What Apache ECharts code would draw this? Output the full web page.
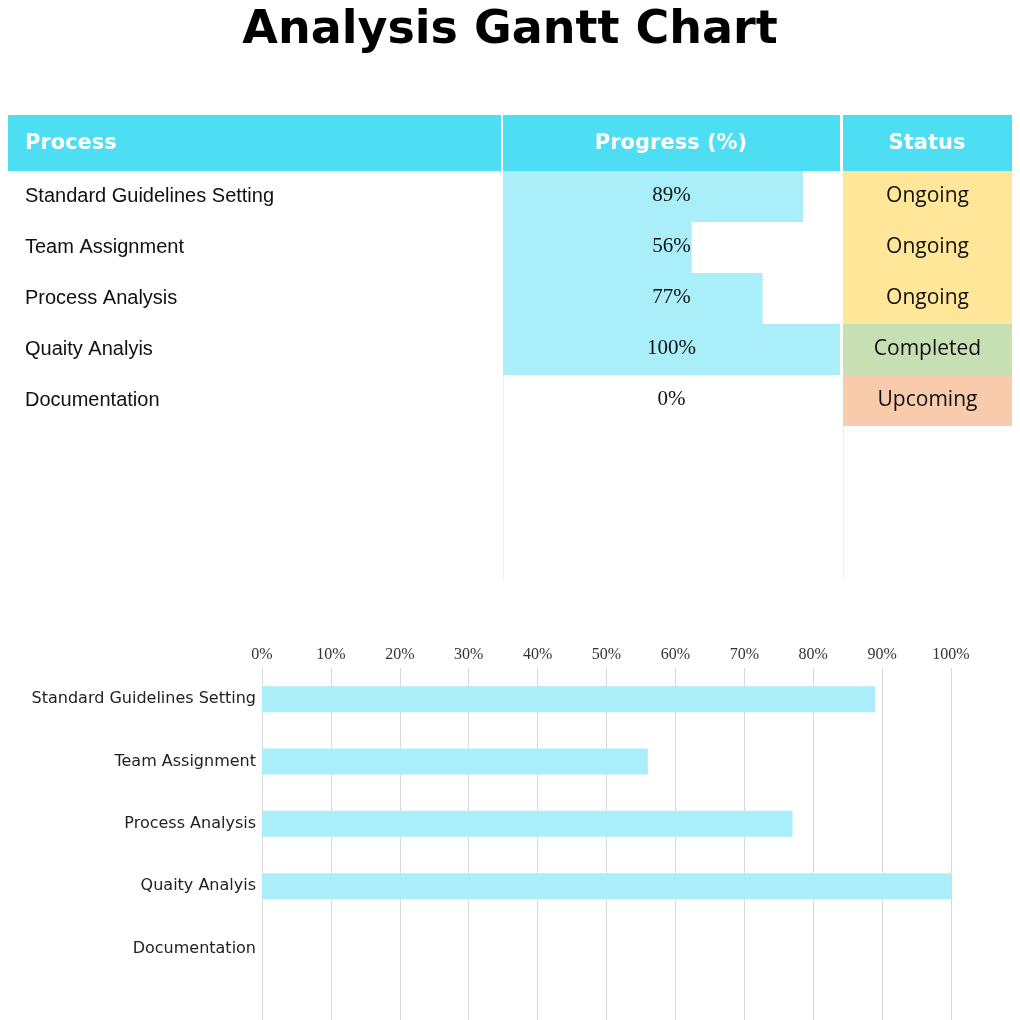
<!DOCTYPE html>
<html>
<head>
<meta charset="utf-8">
<script src="https://cdn.jsdelivr.net/npm/echarts@6/dist/echarts.min.js"></script>
<style>
html, body { margin: 0; padding: 0; background: #fff; }
#main { width: 1020px; height: 1020px; }
</style>
</head>
<body>
<div id="main"></div>
<script>
// table + chart data
const processes = ['Standard Guidelines Setting', 'Team Assignment', 'Process Analysis', 'Quaity Analyis', 'Documentation']
const progress = [89, 56, 77, 100, 0]
const statuses = ['Ongoing', 'Ongoing', 'Ongoing', 'Completed', 'Upcoming']
const headers = ['Process', 'Progress (%)', 'Status']

const statusColors = { Ongoing: '#FFE699', Completed: '#C6E0B4', Upcoming: '#F8CBAD' }
const headColor = '#4DDEF4'
const barColor = '#AAEEF9'
const headFont = 'bold 21px "DejaVu Sans"'

const chart = echarts.init(document.getElementById('main'))

const blankLabel = v => (v && v !== 'undefined') ? v : ''

// table grids: 0 = process, 1 = progress, 2 = status (rows 51px, 8 rows down to the table end)
const tableGrid = (left, width) => ({ left: left, width: width, top: 171, height: 408, outerBoundsMode: 'none' })
const tableX = (idx, max) => ({ type: 'value', gridIndex: idx, min: 0, max: max, show: false })
const tableY = (idx, line) => ({
    type: 'category', gridIndex: idx, data: processes, inverse: true, max: 7,
    axisLine: { show: line, lineStyle: { color: '#eeeeee', width: 1 } },
    axisTick: { show: false }, axisLabel: { show: false }, splitLine: { show: false }
})

const option = {
    backgroundColor: '#fff',
    animation: false,
    title: {
        text: 'Analysis Gantt Chart',
        left: 'center',
        top: 3,
        textStyle: { fontSize: 46, fontWeight: 'bold', fontFamily: 'DejaVu Sans', color: '#000' }
    },
    graphic: [
        { type: 'rect', shape: { x: 8, y: 115, width: 493, height: 56 }, style: { fill: headColor } },
        { type: 'rect', shape: { x: 503, y: 115, width: 337, height: 56 }, style: { fill: headColor } },
        { type: 'rect', shape: { x: 843, y: 115, width: 169, height: 56 }, style: { fill: headColor } },
        { type: 'text', x: 25, y: 144, style: { text: headers[0], fill: '#fff', font: headFont, verticalAlign: 'middle' } },
        { type: 'text', x: 671, y: 144, style: { text: headers[1], fill: '#fff', font: headFont, align: 'center', verticalAlign: 'middle' } },
        { type: 'text', x: 927, y: 144, style: { text: headers[2], fill: '#fff', font: headFont, align: 'center', verticalAlign: 'middle' } }
    ],
    grid: [
        tableGrid(8, 493),
        tableGrid(503, 337),
        tableGrid(843, 169),
        { left: 262, width: 689, top: 668, height: 374, outerBoundsMode: 'none' }
    ],
    xAxis: [
        tableX(0, 1),
        tableX(1, 100),
        tableX(2, 1),
        {
            type: 'value', gridIndex: 3, position: 'top', min: 0, max: 100, interval: 10,
            axisLine: { show: false }, axisTick: { show: false },
            axisLabel: { formatter: '{value}%', margin: 5, fontFamily: 'Liberation Serif', fontSize: 16, color: '#333' },
            splitLine: { show: true, lineStyle: { color: '#d9d9d9', width: 1 } }
        }
    ],
    yAxis: [
        tableY(0, false),
        tableY(1, true),
        tableY(2, true),
        {
            type: 'category', gridIndex: 3, data: processes, inverse: true, max: 5,
            axisLine: { show: false }, axisTick: { show: false },
            axisLabel: { formatter: blankLabel, margin: 6, fontFamily: 'DejaVu Sans', fontSize: 16, color: '#222' },
            splitLine: { show: false }
        }
    ],
    series: [
        {
            // process names
            type: 'custom', xAxisIndex: 0, yAxisIndex: 0, silent: true,
            data: processes.map((p, i) => [i, 0]),
            encode: { x: 1, y: 0 },
            renderItem: (params, api) => {
                const i = params.dataIndex
                const pt = api.coord([0, i])
                return {
                    type: 'text', x: pt[0] + 17, y: pt[1],
                    style: { text: processes[i], font: '20px "Liberation Sans"', fill: '#111', verticalAlign: 'middle' }
                }
            }
        },
        {
            // progress cells
            type: 'custom', xAxisIndex: 1, yAxisIndex: 1, silent: true,
            data: progress.map((v, i) => [i, v]),
            encode: { x: 1, y: 0 },
            renderItem: (params, api) => {
                const i = params.dataIndex
                const v = api.value(1)
                const s = api.coord([0, i])
                const e = api.coord([v, i])
                const m = api.coord([50, i])
                const h = api.size([0, 1])[1]
                return {
                    type: 'group', children: [
                        { type: 'rect', shape: { x: s[0], y: s[1] - h / 2, width: e[0] - s[0], height: h }, style: { fill: barColor } },
                        { type: 'text', x: m[0], y: m[1] - 1, style: { text: v + '%', font: '21px "Liberation Serif"', fill: '#111', align: 'center', verticalAlign: 'middle' } }
                    ]
                }
            }
        },
        {
            // status cells
            type: 'custom', xAxisIndex: 2, yAxisIndex: 2, silent: true,
            data: statuses.map((st, i) => [i, 1]),
            encode: { x: 1, y: 0 },
            renderItem: (params, api) => {
                const i = params.dataIndex
                const s = api.coord([0, i])
                const e = api.coord([1, i])
                const m = api.coord([0.5, i])
                const h = api.size([0, 1])[1]
                return {
                    type: 'group', children: [
                        { type: 'rect', shape: { x: s[0], y: s[1] - h / 2, width: e[0] - s[0], height: h }, style: { fill: statusColors[statuses[i]] } },
                        { type: 'text', x: m[0], y: m[1], style: { text: statuses[i], font: '21px "Open Sans"', fill: '#111', align: 'center', verticalAlign: 'middle' } }
                    ]
                }
            }
        },
        {
            type: 'bar', xAxisIndex: 3, yAxisIndex: 3, silent: true,
            data: progress, barWidth: 26,
            itemStyle: { color: barColor }
        }
    ]
}

chart.setOption(option)
</script>
</body>
</html>
